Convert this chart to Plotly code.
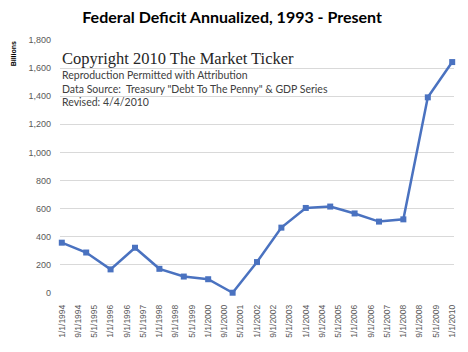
import plotly.graph_objects as go

dates = ["1994-01-01", "1995-01-01", "1996-01-01", "1997-01-01", "1998-01-01", "1999-01-01",
         "2000-01-01", "2001-01-01", "2002-01-01", "2003-01-01", "2004-01-01", "2005-01-01",
         "2006-01-01", "2007-01-01", "2008-01-01", "2009-01-01", "2010-01-01"]
deficit = [358, 288, 168, 322, 172, 117, 98, 2, 220, 465, 605, 615, 566, 508, 524, 1392, 1643]

tick_dates = ["1994-01-01", "1994-09-01", "1995-05-01", "1996-01-01", "1996-09-01", "1997-05-01",
              "1998-01-01", "1998-09-01", "1999-05-01", "2000-01-01", "2000-09-01", "2001-05-01",
              "2002-01-01", "2002-09-01", "2003-05-01", "2004-01-01", "2004-09-01", "2005-05-01",
              "2006-01-01", "2006-09-01", "2007-05-01", "2008-01-01", "2008-09-01", "2009-05-01",
              "2010-01-01"]
tick_labels = ["1/1/1994", "9/1/1994", "5/1/1995", "1/1/1996", "9/1/1996", "5/1/1997",
               "1/1/1998", "9/1/1998", "5/1/1999", "1/1/2000", "9/1/2000", "5/1/2001",
               "1/1/2002", "9/1/2002", "5/1/2003", "1/1/2004", "9/1/2004", "5/1/2005",
               "1/1/2006", "9/1/2006", "5/1/2007", "1/1/2008", "9/1/2008", "5/1/2009",
               "1/1/2010"]
y_ticks = [0, 200, 400, 600, 800, 1000, 1200, 1400, 1600, 1800]

title_text = "Federal Deficit Annualized, 1993 - Present"
notes = ["Reproduction Permitted with Attribution",
         "Data Source:  Treasury \"Debt To The Penny\" & GDP Series",
         "Revised: 4/4/2010"]

fig = go.Figure()
fig.add_trace(go.Scatter(
    x=dates, y=deficit, mode="lines+markers",
    line=dict(color="#4A72C0", width=2.5),
    marker=dict(symbol="square", size=6, color="#4A72C0"),
    cliponaxis=False, showlegend=False,
))

fig.update_layout(
    width=468, height=352,
    margin=dict(l=60, r=11, t=40, b=59),
    paper_bgcolor="white", plot_bgcolor="white",
    title=dict(text="<b>" + title_text + "</b>", x=0.496, xanchor="center",
               y=1 - 17 / 352, yanchor="middle",
               font=dict(family="Lato", size=16, color="#000000")),
    xaxis=dict(type="date", range=["1993-12-05", "2010-01-28"],
               tickmode="array", tickvals=tick_dates, ticktext=tick_labels,
               tickangle=-90, showgrid=False, zeroline=False, showline=False,
               tickfont=dict(family="Liberation Sans", size=8.5, color="#595959"),
               ticks="", ticklabelstandoff=9),
    yaxis=dict(range=[0, 1800], tickmode="array", tickvals=y_ticks,
               tickformat=",d", showgrid=True, gridcolor="#D9D9D9", gridwidth=1,
               zeroline=False, showline=False, ticks="",
               tickfont=dict(family="Liberation Sans", size=9, color="#595959"),
               ticklabelstandoff=8),
)

fig.add_annotation(text="<b>Billions</b>", xref="paper", yref="paper",
                   x=(13 - 60) / 397, y=(293 - 54) / 253, textangle=-90,
                   showarrow=False, xanchor="center", yanchor="middle",
                   font=dict(family="Liberation Sans", size=7, color="#000000"))

fig.add_annotation(text="Copyright 2010 The Market Ticker", xref="paper", yref="paper",
                   x=(60 - 60) / 397, y=(293 - 58) / 253, showarrow=False,
                   xanchor="left", yanchor="middle",
                   font=dict(family="Liberation Serif", size=16.5, color="#262626"))
for i, (txt, ypx) in enumerate(zip(notes, [75, 89, 102])):
    fig.add_annotation(text=txt, xref="paper", yref="paper",
                       x=(60 - 60) / 397, y=(293 - ypx) / 253, showarrow=False,
                       xanchor="left", yanchor="middle",
                       font=dict(family="Lato", size=10.5, color="#404040"))

fig.write_html("out.html")
